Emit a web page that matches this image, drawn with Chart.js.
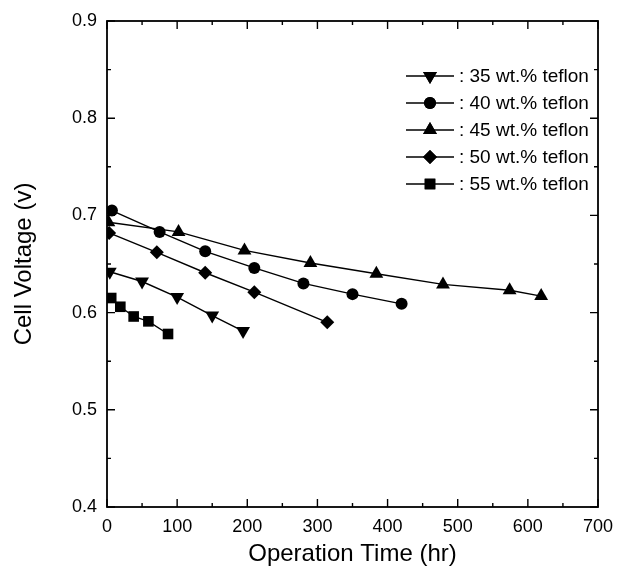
<!DOCTYPE html>
<html>
<head>
<meta charset="utf-8">
<script src="https://cdn.jsdelivr.net/npm/chart.js@4/dist/chart.umd.min.js"></script>
<style>
  html, body { margin: 0; padding: 0; background: #fff; }
  #wrap { width: 620px; height: 573px; }
</style>
</head>
<body>
<div id="wrap"><canvas id="myChart" width="620" height="573"></canvas></div>
<script>
// series labels (teflon content)
const labels = [": 35 wt.% teflon", ": 40 wt.% teflon", ": 45 wt.% teflon", ": 50 wt.% teflon", ": 55 wt.% teflon"];

// operation time (hr) / cell voltage (V)
const hours35 = [4, 50, 100, 150, 194];
const volts35 = [0.642, 0.632, 0.616, 0.597, 0.581];

const hours40 = [7, 75, 140, 210, 280, 350, 420];
const volts40 = [0.705, 0.683, 0.663, 0.646, 0.630, 0.619, 0.609];

const hours45 = [2, 102, 196, 290, 384, 479, 574, 619];
const volts45 = [0.693, 0.683, 0.664, 0.651, 0.640, 0.629, 0.623, 0.617];

const hours50 = [3, 71, 140, 210, 314];
const volts50 = [0.682, 0.662, 0.641, 0.621, 0.590];

const hours55 = [6, 19, 38, 59, 87];
const volts55 = [0.615, 0.606, 0.596, 0.591, 0.578];

const xTicks = [0, 100, 200, 300, 400, 500, 600, 700];
const yTicks = [0.4, 0.5, 0.6, 0.7, 0.8, 0.9];

const FONT = "'Liberation Sans', Arial, sans-serif";

function pts(xs, ys) {
    return xs.map((x, i) => ({ x: x, y: ys[i] }));
}

const markers = [
    { style: "triangle", rotation: 180, radius: 8 },
    { style: "circle", rotation: 0, radius: 6 },
    { style: "triangle", rotation: 0, radius: 8 },
    { style: "rectRot", rotation: 0, radius: 7 },
    { style: "rect", rotation: 0, radius: 7.5 }
];

const series = [
    pts(hours35, volts35),
    pts(hours40, volts40),
    pts(hours45, volts45),
    pts(hours50, volts50),
    pts(hours55, volts55)
];

const datasets = series.map((d, i) => ({
    label: labels[i],
    data: d,
    borderColor: "#000",
    backgroundColor: "#000",
    borderWidth: 1.4,
    pointStyle: markers[i].style,
    rotation: markers[i].rotation,
    pointRadius: markers[i].radius,
    pointBorderWidth: 0,
    pointBackgroundColor: "#000",
    tension: 0
}));

// frame with inward ticks on all four sides + legend inside the plot
const framePlugin = {
    id: "frame",
    afterDraw(chart) {
        const ctx = chart.ctx;
        const a = chart.chartArea;
        const xs = chart.scales.x;
        const ys = chart.scales.y;
        ctx.save();
        ctx.strokeStyle = "#000";
        ctx.lineWidth = 1.8;
        ctx.strokeRect(a.left, a.top, a.right - a.left, a.bottom - a.top);
        ctx.lineWidth = 1.4;
        ctx.beginPath();
        for (let v = 0; v <= 700; v += 50) {
            const p = xs.getPixelForValue(v);
            const len = v % 100 === 0 ? 8 : 4;
            ctx.moveTo(p, a.bottom); ctx.lineTo(p, a.bottom - len);
            ctx.moveTo(p, a.top); ctx.lineTo(p, a.top + len);
        }
        for (let k = 0; k <= 10; k++) {
            const v = 0.4 + k * 0.05;
            const p = ys.getPixelForValue(v);
            const len = k % 2 === 0 ? 8 : 4;
            ctx.moveTo(a.left, p); ctx.lineTo(a.left + len, p);
            ctx.moveTo(a.right, p); ctx.lineTo(a.right - len, p);
        }
        ctx.stroke();

        // legend
        const lx = 406, ly = 76, gap = 27;
        ctx.font = "19px " + FONT;
        ctx.textBaseline = "middle";
        ctx.fillStyle = "#000";
        chart.data.datasets.forEach((ds, i) => {
            const y = ly + i * gap;
            ctx.lineWidth = 1.4;
            ctx.beginPath();
            ctx.moveTo(lx, y); ctx.lineTo(lx + 48, y);
            ctx.stroke();
            Chart.helpers.drawPoint(ctx, {
                pointStyle: ds.pointStyle,
                rotation: ds.rotation,
                radius: ds.pointRadius,
                borderWidth: 0
            }, lx + 24, y);
            ctx.fill();
            ctx.fillText(ds.label, lx + 53, y + 1);
        });
        ctx.restore();
    }
};

new Chart(document.getElementById("myChart"), {
    type: "line",
    data: { datasets: datasets },
    plugins: [framePlugin],
    options: {
        responsive: false,
        animation: false,
        layout: { padding: { top: 21, right: 22, left: 0, bottom: 0 } },
        plugins: {
            legend: { display: false },
            tooltip: { enabled: false }
        },
        scales: {
            x: {
                type: "linear",
                min: 0,
                max: 700,
                afterFit(s) { s.height = 66; },
                afterBuildTicks(s) { s.ticks = xTicks.map(v => ({ value: v })); },
                grid: { display: false },
                border: { display: false },
                ticks: {
                    color: "#000",
                    padding: 1,
                    maxRotation: 0,
                    font: { family: FONT, size: 18 }
                },
                title: {
                    display: true,
                    text: "Operation Time (hr)",
                    color: "#000",
                    font: { family: FONT, size: 24 },
                    padding: { top: 4 }
                }
            },
            y: {
                min: 0.4,
                max: 0.9,
                afterFit(s) { s.width = 107; },
                afterBuildTicks(s) { s.ticks = yTicks.map(v => ({ value: v })); },
                grid: { display: false },
                border: { display: false },
                ticks: {
                    color: "#000",
                    padding: 2,
                    font: { family: FONT, size: 18 },
                    callback: v => v.toFixed(1)
                },
                title: {
                    display: true,
                    text: "Cell Voltage (v)",
                    color: "#000",
                    font: { family: FONT, size: 24 },
                    padding: { top: 10, bottom: 14 }
                }
            }
        }
    }
});
</script>
</body>
</html>
